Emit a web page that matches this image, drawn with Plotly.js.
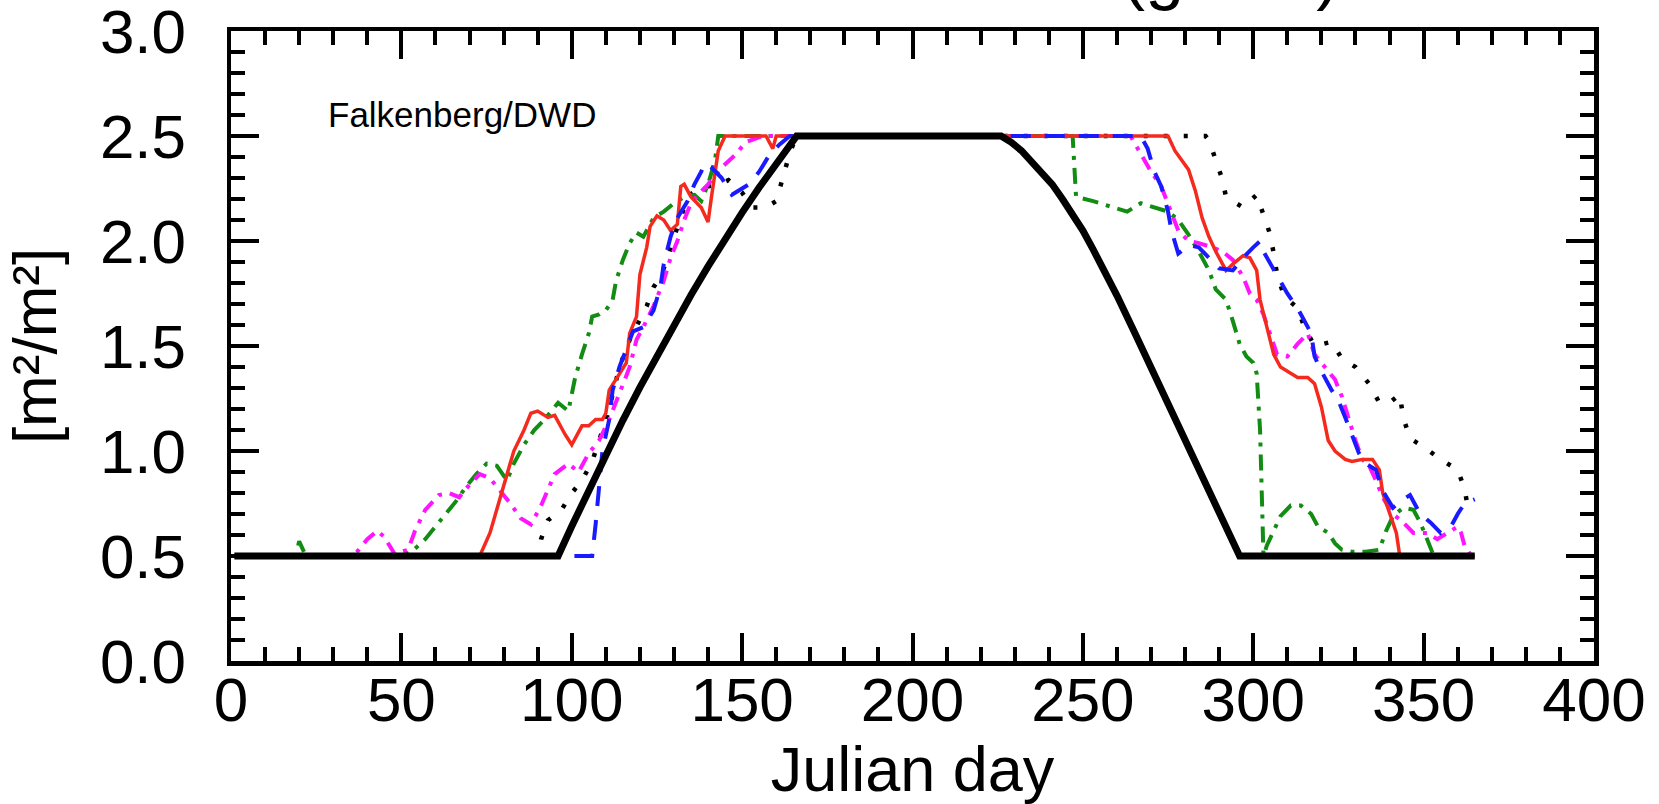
<!DOCTYPE html>
<html>
<head>
<meta charset="utf-8">
<script src="https://cdn.plot.ly/plotly-3.0.1.min.js"></script>
<style>
html,body{margin:0;padding:0;background:#ffffff;}
#chart{width:1659px;height:804px;}
</style>
</head>
<body>
<div id="chart"></div>
<script>
// ---- Data ----
const modelDays = [1, 96, 100, 105, 110, 115, 120, 125, 130, 135, 140, 145, 150, 155, 160, 166, 226, 229, 232, 235, 238, 241, 244, 247, 250, 253, 256, 260, 265, 270, 275, 280, 285, 290, 296, 365];
const modelLAI  = [0.5, 0.5, 0.642, 0.815, 0.983, 1.146, 1.303, 1.455, 1.60, 1.743, 1.879, 2.01, 2.135, 2.255, 2.37, 2.5, 2.5, 2.47, 2.43, 2.38, 2.33, 2.27, 2.20, 2.13, 2.05, 1.96, 1.87, 1.74, 1.57, 1.40, 1.23, 1.06, 0.89, 0.72, 0.5, 0.5];

const redDays = [1, 73, 76, 79, 83, 86, 88, 90, 93, 95, 98, 100, 103, 105, 107, 109, 110, 111, 113, 116, 117, 119, 120, 122, 123, 125, 127, 129, 131, 132, 133, 135, 138, 140, 141, 143, 145, 157, 159, 160, 275, 277, 281, 283, 285, 287, 289, 292, 294, 297, 299, 301, 302, 304, 306, 308, 311, 313, 316, 318, 320, 322, 324, 327, 329, 332, 335, 337, 338, 340, 342, 343, 365];
const redLAI  = [0.5, 0.5, 0.61, 0.78, 1.0, 1.10, 1.18, 1.19, 1.16, 1.17, 1.08, 1.03, 1.12, 1.12, 1.15, 1.15, 1.18, 1.29, 1.34, 1.42, 1.56, 1.64, 1.84, 1.97, 2.07, 2.12, 2.10, 2.05, 2.08, 2.26, 2.27, 2.21, 2.16, 2.09, 2.21, 2.43, 2.5, 2.5, 2.44, 2.5, 2.5, 2.43, 2.34, 2.24, 2.11, 2.02, 1.95, 1.86, 1.89, 1.93, 1.92, 1.86, 1.72, 1.59, 1.46, 1.40, 1.37, 1.35, 1.35, 1.32, 1.21, 1.05, 1.00, 0.96, 0.95, 0.96, 0.96, 0.91, 0.80, 0.70, 0.61, 0.5, 0.5];

const blueDays = [1, 106, 107, 108, 109, 111, 112, 114, 116, 118, 121, 124, 126, 127, 129, 131, 134, 136, 138, 139, 141, 144, 147, 150, 152, 155, 158, 161, 164, 267, 269, 271, 273, 275, 276, 278, 281, 284, 287, 290, 294, 297, 300, 302, 303, 305, 308, 310, 313, 315, 317, 318, 320, 323, 325, 327, 329, 331, 333, 336, 338, 341, 344, 346, 349, 352, 355, 358, 360, 362, 365];
const blueLAI  = [0.5, 0.5, 0.65, 0.85, 1.0, 1.15, 1.29, 1.40, 1.49, 1.57, 1.59, 1.67, 1.78, 1.89, 2.02, 2.11, 2.19, 2.27, 2.33, 2.37, 2.35, 2.30, 2.22, 2.25, 2.27, 2.33, 2.41, 2.46, 2.5, 2.5, 2.44, 2.33, 2.26, 2.14, 2.05, 1.94, 1.98, 1.97, 1.92, 1.87, 1.86, 1.92, 1.97, 2.00, 1.95, 1.89, 1.81, 1.75, 1.68, 1.62, 1.56, 1.45, 1.38, 1.29, 1.24, 1.16, 1.07, 0.99, 0.94, 0.91, 0.81, 0.73, 0.77, 0.79, 0.70, 0.66, 0.61, 0.64, 0.70, 0.75, 0.77];

const greenDays = [1, 19, 20, 22, 50, 53, 57, 60, 63, 66, 69, 72, 75, 78, 81, 83, 86, 89, 92, 96, 99, 101, 103, 105, 106, 108, 110, 112, 113, 115, 117, 119, 121, 124, 127, 130, 133, 136, 138, 140, 142, 143, 247, 248, 253, 259, 263, 267, 271, 275, 278, 281, 284, 287, 289, 292, 294, 296, 298, 300, 301, 302, 303, 304, 306, 308, 311, 314, 317, 319, 322, 324, 326, 329, 333, 337, 339, 341, 344, 347, 349, 351, 353, 365];
const greenLAI  = [0.5, 0.5, 0.57, 0.5, 0.5, 0.52, 0.58, 0.64, 0.70, 0.76, 0.83, 0.89, 0.94, 0.93, 0.86, 0.94, 1.03, 1.10, 1.15, 1.23, 1.19, 1.35, 1.46, 1.56, 1.64, 1.65, 1.67, 1.72, 1.81, 1.91, 1.99, 2.04, 2.02, 2.11, 2.14, 2.18, 2.21, 2.22, 2.19, 2.27, 2.38, 2.5, 2.5, 2.21, 2.19, 2.16, 2.14, 2.18, 2.16, 2.14, 2.10, 2.03, 1.95, 1.86, 1.77, 1.72, 1.62, 1.51, 1.45, 1.42, 1.37, 1.10, 0.5, 0.55, 0.62, 0.69, 0.74, 0.74, 0.70, 0.64, 0.61, 0.56, 0.53, 0.52, 0.52, 0.53, 0.62, 0.69, 0.73, 0.72, 0.66, 0.58, 0.5, 0.5];

const magentaDays = [1, 36, 40, 43, 45, 48, 52, 54, 57, 61, 64, 67, 70, 73, 76, 79, 82, 85, 88, 91, 93, 95, 99, 102, 105, 108, 111, 114, 117, 119, 121, 124, 127, 129, 131, 133, 135, 137, 140, 144, 148, 151, 154, 156, 264, 267, 270, 273, 276, 278, 281, 284, 288, 291, 294, 297, 299, 301, 303, 305, 307, 310, 313, 316, 318, 321, 324, 326, 328, 330, 332, 334, 336, 338, 341, 344, 347, 351, 354, 357, 360, 361, 362, 364, 365];
const magentaLAI  = [0.5, 0.5, 0.58, 0.62, 0.59, 0.51, 0.53, 0.62, 0.72, 0.79, 0.80, 0.78, 0.84, 0.89, 0.87, 0.81, 0.75, 0.68, 0.65, 0.74, 0.82, 0.89, 0.94, 0.90, 0.99, 1.05, 1.15, 1.27, 1.40, 1.53, 1.59, 1.69, 1.81, 1.92, 2.00, 2.10, 2.18, 2.22, 2.27, 2.35, 2.41, 2.47, 2.49, 2.5, 2.5, 2.41, 2.33, 2.26, 2.14, 2.05, 2.00, 1.99, 1.97, 1.95, 1.91, 1.83, 1.75, 1.72, 1.65, 1.56, 1.46, 1.45, 1.51, 1.56, 1.46, 1.40, 1.34, 1.26, 1.15, 1.05, 0.96, 0.93, 0.86, 0.78, 0.70, 0.66, 0.61, 0.61, 0.58, 0.61, 0.64, 0.61, 0.55, 0.5, 0.5];

const dotDays = [1, 90, 91, 93, 97, 100, 103, 106, 108, 110, 112, 114, 117, 119, 122, 124, 126, 128, 130, 132, 134, 137, 140, 143, 146, 150, 153, 157, 160, 162, 164, 166, 286, 287, 289, 291, 292, 297, 301, 303, 305, 306, 307, 309, 313, 315, 318, 323, 326, 330, 334, 337, 340, 343, 344, 346, 350, 355, 360, 362, 363, 365];
const dotLAI  = [0.5, 0.5, 0.58, 0.67, 0.72, 0.80, 0.86, 0.95, 1.05, 1.14, 1.27, 1.40, 1.53, 1.59, 1.69, 1.78, 1.83, 1.91, 2.02, 2.11, 2.21, 2.25, 2.26, 2.27, 2.29, 2.23, 2.16, 2.16, 2.19, 2.30, 2.42, 2.5, 2.5, 2.48, 2.39, 2.29, 2.21, 2.16, 2.22, 2.13, 2.03, 1.94, 1.84, 1.74, 1.68, 1.59, 1.50, 1.52, 1.44, 1.40, 1.32, 1.23, 1.23, 1.27, 1.16, 1.06, 1.02, 0.96, 0.91, 0.82, 0.73, 0.73];

const xTickVals = [0, 50, 100, 150, 200, 250, 300, 350, 400];
const xTickText = ['0', '50', '100', '150', '200', '250', '300', '350', '400'];
const yTickVals = [0, 0.5, 1.0, 1.5, 2.0, 2.5, 3.0];
const yTickText = ['0.0', '0.5', '1.0', '1.5', '2.0', '2.5', '3.0'];

const siteLabel = 'Falkenberg/DWD';
const titleText = 'Leaf Area Index (grass)';
const xTitle = 'Julian day';
const yTitle = '[m²/m²]';

// ---- Styling ----
const FONT = '"Liberation Sans", Arial, Helvetica, sans-serif';

function tr(x, y, color, width, dash) {
  return {x: x, y: y, type: 'scatter', mode: 'lines', hoverinfo: 'skip',
          line: {color: color, width: width, dash: dash}, cliponaxis: true};
}

const data = [
  tr(dotDays, dotLAI, '#000000', 4.5, '4px,16px'),
  tr(greenDays, greenLAI, '#138c13', 4, '16px,8px,4px,8px'),
  tr(magentaDays, magentaLAI, '#ff14ff', 4, '14px,8px,4px,8px'),
  tr(redDays, redLAI, '#f52a1e', 3.5, 'solid'),
  tr(blueDays, blueLAI, '#1a1aff', 4, '20px,14px'),
  tr(modelDays, modelLAI, '#000000', 7, 'solid')
];

const axisCommon = {
  ticks: 'inside', tickwidth: 4, ticklen: 28, tickcolor: '#000',
  showline: true, linewidth: 4.5, linecolor: '#000', mirror: 'allticks',
  showgrid: false, zeroline: false, tickmode: 'array',
  ticklabeloverflow: 'allow',
  tickfont: {family: FONT, size: 62, color: '#000'}
};

const layout = {
  width: 1659, height: 804,
  margin: {l: 231, r: 65, t: 31, b: 143, pad: 0},
  paper_bgcolor: '#ffffff', plot_bgcolor: '#ffffff',
  showlegend: false,
  font: {family: FONT, color: '#000'},
  xaxis: Object.assign({}, axisCommon, {
    range: [0, 400.0001], tickvals: xTickVals, ticktext: xTickText,
    ticklabelstandoff: -19,
    minor: {dtick: 10, tick0: 0, ticks: 'inside', ticklen: 14, tickwidth: 4, tickcolor: '#000', showgrid: false},
    title: {text: xTitle, font: {family: FONT, size: 63, color: '#000'}, standoff: 19}
  }),
  yaxis: Object.assign({}, axisCommon, {
    range: [0, 3.0001], tickvals: yTickVals, ticktext: yTickText,
    ticklabelstandoff: 28,
    minor: {dtick: 0.1, tick0: 0, ticks: 'inside', ticklen: 14, tickwidth: 4, tickcolor: '#000', showgrid: false},
    title: {text: yTitle, font: {family: FONT, size: 62, color: '#000'}, standoff: 30}
  }),
  annotations: [
    {text: siteLabel, xref: 'x', yref: 'y', x: 28, y: 2.5, xanchor: 'left', yanchor: 'bottom',
     showarrow: false, font: {family: FONT, size: 35, color: '#000'}},
    {text: titleText, xref: 'x', yref: 'paper', x: 326, y: 1, xanchor: 'right', yanchor: 'bottom',
     yshift: 18, showarrow: false, font: {family: FONT, size: 70, color: '#000'}}
  ]
};

Plotly.newPlot('chart', data, layout, {displayModeBar: false, staticPlot: true});
</script>
</body>
</html>
